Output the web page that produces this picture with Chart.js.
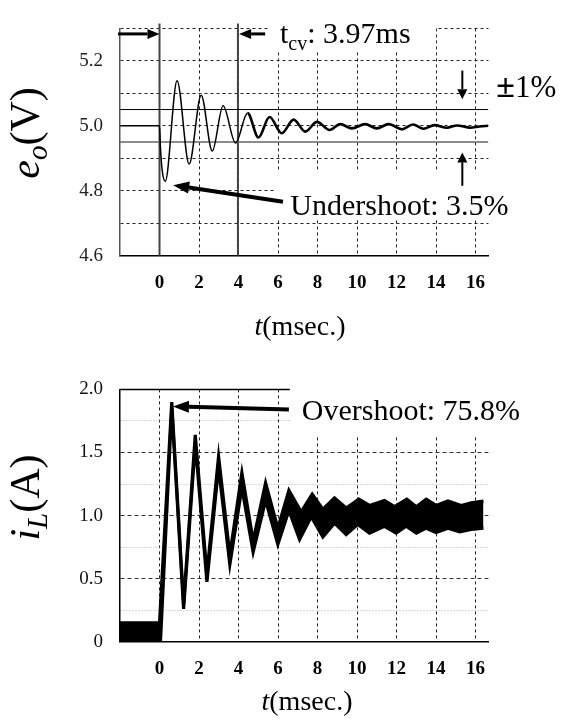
<!DOCTYPE html>
<html>
<head>
<meta charset="utf-8">
<script src="https://cdn.jsdelivr.net/npm/chart.js@4.4.1/dist/chart.umd.min.js"></script>
<style>
  html, body { margin: 0; padding: 0; background: #fff; }
  #wrap { position: relative; width: 578px; height: 722px; }
  canvas { position: absolute; left: 0; display: block; }
  #eoChart { top: 0; }
  #iLChart { top: 361px; }
</style>
</head>
<body>
<div id="wrap">
  <canvas id="eoChart" width="578" height="361"></canvas>
  <canvas id="iLChart" width="578" height="361"></canvas>
</div>
<script>
// --- Data: output voltage e_o (V) vs time (ms) ---
const EO_T = [-2, 0, 0.05, 0.14, 0.29, 0.89, 1.5, 2.11, 2.67, 3.22, 3.85, 4.46, 5.01, 5.57,
  6.19, 6.79, 7.38, 7.97, 8.61, 9.15, 9.74, 10.41, 11.0, 11.6, 12.27, 12.83, 13.37, 13.92,
  14.55, 15.06, 15.73, 16.2, 16.65];
const EO_V = [5.0, 5.0, 4.93, 4.86, 4.829, 5.139, 4.882, 5.094, 4.922, 5.062, 4.947, 5.039, 4.964, 5.027,
  4.977, 5.019, 4.982, 5.012, 4.987, 5.005, 4.992, 5.005, 4.992, 5.005, 4.989, 5.004, 4.991, 5.002,
  4.994, 5.001, 4.994, 4.998, 5.0];
const EO_BAND = [5.05, 4.95];      // ±1% limits
const EO_MARKS = [0, 3.97];        // load step and t_cv
const EO_Y_TICKS = [4.6, 4.7, 4.8, 4.9, 5.0, 5.1, 5.2, 5.3];

// --- Data: inductor current i_L (A), upper / lower edge of the ripple band ---
const IL_T_UP = [-2, 0, 0.62, 1.22, 1.81, 2.4, 2.99, 3.56, 4.17, 4.74, 5.37, 5.99, 6.55, 7.17,
  7.73, 8.27, 8.86, 9.45, 10.09, 10.63, 11.39, 11.9, 12.52, 13.0, 13.5, 14.0, 14.6, 15.27, 15.78, 16.4];
const IL_UP = [0.15, 0.15, 1.9, 0.3, 1.64, 0.54, 1.47, 0.69, 1.34, 0.8, 1.26, 0.9, 1.2, 1.03,
  1.17, 1.05, 1.14, 1.06, 1.13, 1.08, 1.12, 1.07, 1.13, 1.07, 1.13, 1.08, 1.115, 1.08, 1.1, 1.115];
const IL_T_LO = [-2, 0.05, 0.62, 1.22, 1.81, 2.4, 2.99, 3.56, 4.17, 4.74, 5.37, 5.99, 6.55, 7.09,
  7.68, 8.27, 8.86, 9.45, 10.04, 10.63, 11.39, 11.98, 12.49, 13.0, 13.5, 14.0, 14.6, 15.2, 15.78, 16.4];
const IL_LO = [0, 0, 1.85, 0.26, 1.57, 0.475, 1.38, 0.61, 1.22, 0.71, 1.12, 0.77, 1.04, 0.81,
  0.99, 0.83, 0.94, 0.85, 0.93, 0.86, 0.915, 0.86, 0.915, 0.86, 0.9, 0.865, 0.9, 0.87, 0.89, 0.9];
const IL_Y_TICKS = [0, 0.25, 0.5, 0.75, 1.0, 1.25, 1.5, 1.75, 2.0];

const T_TICKS = [0, 2, 4, 6, 8, 10, 12, 14, 16];
const T_MIN = -2;
const T_MAX = 16.65;

const SERIF = '"Liberation Serif", "Times New Roman", serif';

const pts = (xs, ys) => xs.map((x, i) => ({ x, y: ys[i] }));

// --- Helpers for the drawn annotations ---
function arrow(ctx, x0, y0, x1, y1, width, head, halfW) {
  const a = Math.atan2(y1 - y0, x1 - x0);
  const bx = x1 - head * Math.cos(a);
  const by = y1 - head * Math.sin(a);
  ctx.lineWidth = width;
  ctx.beginPath();
  ctx.moveTo(x0, y0);
  ctx.lineTo(bx, by);
  ctx.stroke();
  ctx.beginPath();
  ctx.moveTo(x1, y1);
  ctx.lineTo(bx + halfW * Math.sin(a), by - halfW * Math.cos(a));
  ctx.lineTo(bx - halfW * Math.sin(a), by + halfW * Math.cos(a));
  ctx.closePath();
  ctx.fill();
}

function richText(ctx, parts, x, y, align) {
  ctx.textAlign = 'left';
  ctx.textBaseline = 'alphabetic';
  let w = 0;
  parts.forEach((p) => { ctx.font = p.font; w += ctx.measureText(p.text).width; });
  let cx = align === 'center' ? x - w / 2 : x;
  parts.forEach((p) => {
    ctx.font = p.font;
    ctx.fillText(p.text, cx, y + (p.dy || 0));
    cx += ctx.measureText(p.text).width;
  });
}

function rotatedTitle(ctx, parts, x, y) {
  ctx.save();
  ctx.translate(x, y);
  ctx.rotate(-Math.PI / 2);
  richText(ctx, parts, 0, 0, 'center');
  ctx.restore();
}

function whiteBox(ctx, xs, ys, t0, t1, v0, v1) {
  const x0 = xs.getPixelForValue(t0);
  const x1 = xs.getPixelForValue(t1);
  const y0 = ys.getPixelForValue(v0);
  const y1 = ys.getPixelForValue(v1);
  ctx.fillRect(x0, y0, x1 - x0, y1 - y0);
}

function timeAxis(axisHeight) {
  return {
    type: 'linear',
    min: T_MIN,
    max: T_MAX,
    afterBuildTicks: (axis) => { axis.ticks = T_TICKS.map((v) => ({ value: v })); },
    afterFit: (axis) => { axis.height = axisHeight; },
    grid: { color: '#222', lineWidth: 1, drawTicks: false },
    border: { color: '#000', width: 1.5, dash: [3, 3] },
    ticks: {
      color: '#000', padding: 16, autoSkip: false, maxRotation: 0,
      font: { family: SERIF, size: 19, weight: 'bold' },
    },
  };
}

// --- Top chart: e_o ---
const eoDecor = {
  id: 'eoDecor',
  beforeDatasetsDraw(chart) {
    const { ctx, scales: { x, y } } = chart;
    ctx.save();
    ctx.fillStyle = '#fff';
    whiteBox(ctx, x, y, 5.5, 14.0, 5.37, 5.23);
    whiteBox(ctx, x, y, 5.8, 17.5, 4.86, 4.71);
    ctx.restore();
  },
  afterDraw(chart) {
    const { ctx, scales: { x, y } } = chart;
    ctx.save();
    ctx.fillStyle = '#000';
    ctx.strokeStyle = '#000';
    const ya = y.getPixelForValue(5.283);
    arrow(ctx, x.getPixelForValue(-2.1), ya, x.getPixelForValue(0), ya, 3, 12, 5);
    arrow(ctx, x.getPixelForValue(5.35), ya, x.getPixelForValue(4.03), ya, 3, 12, 5);
    const xd = x.getPixelForValue(15.33);
    arrow(ctx, xd, y.getPixelForValue(5.17), xd, y.getPixelForValue(5.082), 2, 10, 5);
    arrow(ctx, xd, y.getPixelForValue(4.815), xd, y.getPixelForValue(4.918), 2, 10, 5);
    arrow(ctx, x.getPixelForValue(6.25), y.getPixelForValue(4.766),
      x.getPixelForValue(0.69), y.getPixelForValue(4.817), 4, 16, 6);

    richText(ctx, [
      { text: 't', font: `30px ${SERIF}` },
      { text: 'cv', font: `20px ${SERIF}`, dy: 7 },
      { text: ': 3.97ms', font: `30px ${SERIF}` },
    ], x.getPixelForValue(6.1), y.getPixelForValue(5.255), 'left');
    richText(ctx, [
      { text: '±', font: `bold 34px ${SERIF}` },
      { text: '1%', font: `31px ${SERIF}` },
    ], x.getPixelForValue(17.05), y.getPixelForValue(5.09), 'left');
    richText(ctx, [{ text: 'Undershoot: 3.5%', font: `30px ${SERIF}` }],
      x.getPixelForValue(6.62), y.getPixelForValue(4.724), 'left');

    rotatedTitle(ctx, [
      { text: 'e', font: `italic 42px ${SERIF}` },
      { text: 'o', font: `italic 29px ${SERIF}`, dy: 8 },
      { text: '(V)', font: `42px ${SERIF}` },
    ], 39, 133);
    richText(ctx, [
      { text: 't', font: `italic 28px ${SERIF}` },
      { text: '(msec.)', font: `28px ${SERIF}` },
    ], 300, 335, 'center');
    ctx.restore();
  },
};

new Chart(document.getElementById('eoChart'), {
  type: 'line',
  data: {
    datasets: [
      {
        data: pts(EO_T, EO_V),
        borderColor: '#000',
        borderWidth: 1.5,
        pointRadius: 0,
        cubicInterpolationMode: 'monotone',
        segment: { borderWidth: (c) => (c.p0.parsed.x >= 4.4 ? 2.6 : 1.5) },
      },
      ...EO_BAND.map((b, i) => ({
        data: pts([T_MIN, T_MAX], [b, b]),
        borderColor: i === 0 ? '#000' : '#666',
        borderWidth: i === 0 ? 1 : 1.5,
        pointRadius: 0,
      })),
      ...EO_MARKS.map((m) => ({
        data: pts([m, m], [4.6, 5.315]),
        borderColor: '#444',
        borderWidth: 2,
        pointRadius: 0,
        clip: false,
      })),
    ],
  },
  options: {
    responsive: false,
    maintainAspectRatio: false,
    animation: false,
    events: [],
    layout: { padding: { left: 0, right: 89.6, top: 23.3, bottom: 0 } },
    scales: {
      x: timeAxis(105.4),
      y: {
        type: 'linear',
        min: 4.6,
        max: 5.3,
        afterBuildTicks: (axis) => { axis.ticks = EO_Y_TICKS.map((v) => ({ value: v })); },
        afterFit: (axis) => { axis.width = 120; },
        grid: { color: '#222', lineWidth: 1, drawTicks: false },
        border: { color: '#555', width: 1.5, dash: [3, 3] },
        ticks: {
          color: '#222', padding: 17, autoSkip: false,
          font: { family: SERIF, size: 19 },
          callback: (v) => (Math.round(v * 10) % 2 === 0 ? v.toFixed(1) : ''),
        },
      },
    },
    plugins: { legend: { display: false }, tooltip: { enabled: false } },
  },
  plugins: [eoDecor],
});

// --- Bottom chart: i_L ---
const isMajor = (v) => Math.round(v * 100) % 50 === 0;

const ilDecor = {
  id: 'ilDecor',
  beforeDatasetsDraw(chart) {
    const { ctx, chartArea, scales: { x, y } } = chart;
    ctx.save();
    ctx.strokeStyle = '#000';
    ctx.lineWidth = 1.5;
    ctx.beginPath();
    ctx.moveTo(chartArea.left, chartArea.top);
    ctx.lineTo(chartArea.right, chartArea.top);
    ctx.stroke();
    ctx.fillStyle = '#fff';
    whiteBox(ctx, x, y, 6.6, 17.5, 2.1, 1.64);
    ctx.restore();
  },
  afterDraw(chart) {
    const { ctx, scales: { x, y } } = chart;
    ctx.save();
    ctx.fillStyle = '#000';
    ctx.strokeStyle = '#000';
    arrow(ctx, x.getPixelForValue(6.55), y.getPixelForValue(1.84),
      x.getPixelForValue(0.68), y.getPixelForValue(1.865), 4, 16, 6);
    richText(ctx, [{ text: 'Overshoot: 75.8%', font: `30px ${SERIF}` }],
      x.getPixelForValue(7.2), y.getPixelForValue(1.755), 'left');
    rotatedTitle(ctx, [
      { text: 'i', font: `italic 42px ${SERIF}` },
      { text: 'L', font: `italic 29px ${SERIF}`, dy: 8 },
      { text: '(A)', font: `42px ${SERIF}` },
    ], 39, 136.5);
    richText(ctx, [
      { text: 't', font: `italic 28px ${SERIF}` },
      { text: '(msec.)', font: `28px ${SERIF}` },
    ], 307, 349, 'center');
    ctx.restore();
  },
};

new Chart(document.getElementById('iLChart'), {
  type: 'line',
  data: {
    datasets: [
      {
        data: pts(IL_T_UP, IL_UP),
        borderColor: '#000',
        backgroundColor: '#000',
        borderWidth: 3.2,
        pointRadius: 0,
        tension: 0,
        fill: '+1',
      },
      {
        data: pts(IL_T_LO, IL_LO),
        borderColor: '#000',
        borderWidth: 3.2,
        pointRadius: 0,
        tension: 0,
      },
    ],
  },
  options: {
    responsive: false,
    maintainAspectRatio: false,
    animation: false,
    events: [],
    layout: { padding: { left: 0, right: 89.6, top: 14, bottom: 0 } },
    scales: {
      x: timeAxis(80.3),
      y: {
        type: 'linear',
        min: 0,
        max: 2.0,
        afterBuildTicks: (axis) => { axis.ticks = IL_Y_TICKS.map((v) => ({ value: v })); },
        afterFit: (axis) => { axis.width = 120; },
        grid: {
          lineWidth: 1,
          drawTicks: false,
          color: (c) => (c.tick && !isMajor(c.tick.value) ? '#b0b0b0' : '#333'),
        },
        border: {
          color: '#000',
          width: 1.5,
          dash: (c) => (c.tick && !isMajor(c.tick.value) ? [1, 2] : [4, 3]),
        },
        ticks: {
          color: '#111', padding: 17, autoSkip: false,
          font: { family: SERIF, size: 19 },
          callback: (v) => (isMajor(v) ? (v === 0 ? '0' : v.toFixed(1)) : ''),
        },
      },
    },
    plugins: { legend: { display: false }, tooltip: { enabled: false } },
  },
  plugins: [ilDecor],
});
</script>
</body>
</html>
